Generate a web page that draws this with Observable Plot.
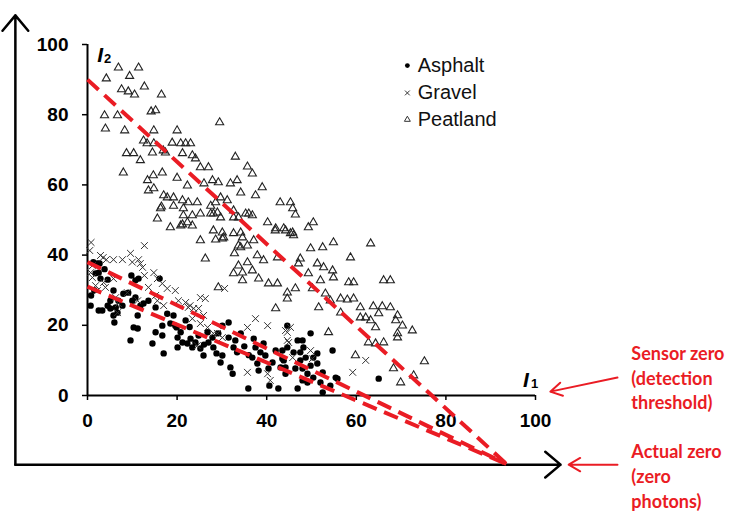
<!DOCTYPE html>
<html><head><meta charset="utf-8">
<script src="https://cdn.jsdelivr.net/npm/d3@7"></script>
<script src="https://cdn.jsdelivr.net/npm/@observablehq/plot@0.6"></script>
<style>html,body{margin:0;padding:0;background:#fff;} #chart{width:735px;height:511px;overflow:hidden}</style>
</head><body><div id="chart"></div>
<script>
// ---- data (I1, I2) ----
const asphalt = [[0.8,28.5],[0.7,25.6],[1.8,34.8],[2.5,35],[2.2,37.6],[1.3,38],[2.9,33.3],[2.7,37.6],[3.3,24.2],[4.5,25.6],[5.1,27],[5.8,29.9],[6.3,25.1],[5.8,22.8],[6.7,23.6],[6.9,27],[6,20.8],[7.8,25.6],[8,29],[9.8,34.2],[10.7,27.9],[10,27],[10.3,19.4],[11.2,19.1],[9.6,15.7],[10.7,32.8],[11.4,33.3],[11.8,25.6],[12.5,26.2],[13.6,27],[14.5,14.8],[15.2,18],[16.1,33.3],[16.7,19.9],[17,12],[17.8,23.3],[19.2,22.8],[19.9,19.4],[20.1,16.5],[20.1,13.7],[20.8,18],[21.2,15.1],[21.9,21.4],[22.3,14.8],[23,16.2],[23.4,13.7],[24.1,15.1],[24.8,17.1],[25.2,13.4],[25.9,11.4],[26.8,18],[27,15.1],[27.9,16.5],[28.1,13.7],[29.2,17.7],[29.7,9.4],[30.1,11.4],[30.1,19.9],[31.5,16.5],[31.5,20.8],[31.9,8],[32.4,6.2],[32.6,13.7],[33,15.7],[33.4,12.3],[34.2,17.7],[35.9,2],[36.8,10.8],[37.1,16.2],[37.5,13.7],[37.9,9.1],[38.2,7.1],[38.6,12.3],[39.3,14.8],[39.7,11.4],[40.4,7.7],[40.6,2.8],[41.3,9.4],[42,12.8],[42.6,2],[43.1,8],[43.5,10.5],[44.2,6.2],[44.6,19.9],[46,12.3],[46.4,7.7],[46.9,2],[47.5,10],[43.5,12.8],[43.8,10],[44.2,8],[44.6,13.7],[46.9,15.7],[48,15.7],[48.2,13.7],[47.5,12.3],[49.8,17.7],[48.7,10.8],[48,7.7],[49.1,6.2],[49.8,8.5],[50.4,10.8],[51.3,9.1],[51.3,12],[48,4.3],[49.1,3.7],[52.5,0.9],[54.2,2.8],[54.7,12.8],[55.4,5.1],[50.4,5.1],[52,3.7],[65,4.8],[52.5,6.6],[55.8,4.8],[2.5,24.2],[5.1,24.8],[9.1,29.3],[11.2,22.8],[15.2,25.1],[16.7,17.1],[19.6,19.9],[1.5,30],[3.8,36],[4.5,33],[18.5,20.5],[22.8,19.5],[26,14.5],[28.8,12],[35,14],[36,11.5]];
const gravel = [[0.8,43.6],[0.5,41.3],[2.9,39.9],[4.2,38.7],[5.8,38.7],[7.8,38.7],[9.6,40.5],[10,38],[11.4,38.7],[11.8,37.6],[12.7,42.7],[12.7,34.2],[13.6,30.8],[14.8,35],[15.6,33.3],[16.7,31.9],[17.8,30.5],[19.6,29.9],[15.2,28.5],[15.6,27],[20.3,27],[21.9,26.5],[22.5,25.1],[23.7,24.8],[25.2,27.9],[26.3,27.6],[24.8,24.8],[25.9,22.8],[1.8,31.3],[2.2,29.9],[3.6,32.2],[5.8,33.3],[6.3,27.9],[6.9,26.2],[11.2,27],[8.9,29.3],[0.7,35],[1.1,37],[23.4,21.9],[25.2,20.5],[26.8,19.4],[29,17.7],[30.1,16.5],[35.7,19.4],[37.5,21.9],[40.2,19.9],[35.7,6.6],[44.6,18],[45.3,19.4],[44.9,15.1],[45.8,10.8],[40.2,6.2],[40.8,4.3],[24.5,14.2],[28.1,17.7],[30.6,30.5],[44.2,18.5],[44.6,15.7],[49.8,12.8],[50.2,10.5],[62.1,10],[59.2,6.6],[12.3,36.5],[17,25.6],[4,30.8],[6.7,23.6],[1.1,33.6],[22.9,25.6],[3.5,39.3]];
const peatland = [[6.9,93.4],[11.4,93.4],[4.2,90.3],[9.4,91],[12.7,88],[7.6,87.2],[9.1,86.6],[10.5,85.7],[16.5,85.7],[3.8,79.8],[6.7,79.8],[14.2,80.9],[15.2,81.2],[4,76],[8.3,75.5],[14.8,75.5],[20,75.5],[29.5,77.8],[12.5,72.6],[13.3,71.8],[14.8,71.8],[16.9,69.8],[18.9,72],[20.8,71.8],[21.9,71.8],[23,71.8],[8.7,69],[10.3,69],[11.8,67],[14.5,69.2],[17.4,69.2],[21.2,69],[23.4,68.4],[24.1,67.5],[33,68],[8,63.5],[13.4,61.3],[14.7,62.7],[16.7,63.5],[13.6,58.4],[14.8,59],[20,62],[25.2,65],[27,65],[22.3,59.8],[26,60.4],[27.9,61.3],[29.2,60.7],[35.7,65.2],[36.8,63.2],[31.9,60.4],[33.4,61.3],[34.2,57.8],[37.5,57],[39,59.3],[17,57],[17.8,56.4],[19.2,56.4],[21.2,55.6],[22.5,55],[24.5,55],[16.3,53.3],[19.2,54],[21.4,53.3],[27.5,54],[28.6,55],[29.7,56.4],[31.2,55.6],[32.6,52.7],[43,55],[45.3,55],[45.8,53.3],[15.6,50.4],[18.5,47.9],[20.8,48.4],[22.3,49.3],[23.4,48.4],[25.2,51.8],[28.1,51.8],[33.7,50.7],[36,51.8],[40.2,49.3],[28.1,47],[30.4,45],[32.6,46.2],[34.6,45],[37.1,44.2],[41.9,47],[44.2,47],[46,45.6],[25.2,44.2],[33.7,42.7],[35.7,42.7],[16.5,53.8],[21.4,51.3],[23.4,51.3],[21.2,48.7],[27.5,51.8],[29,52.1],[29.7,50.7],[32.6,50.7],[35.3,51.8],[36.8,51.3],[30.1,46.4],[34.2,46.4],[42,47.6],[43.8,47.6],[45.3,46.2],[28.6,44.4],[30.1,44.7],[34.2,42.2],[32.8,40.5],[37.9,39.9],[39.3,38.5],[42.4,39.3],[26.3,39],[32.6,34.8],[33.7,37],[35.7,37.9],[34.6,35],[36.8,35.6],[34.6,32.8],[38.2,33.3],[40.4,31.9],[42.4,31.9],[44.6,29.3],[44.6,27.6],[46.4,30.5],[29.2,30.8],[42,24.8],[45.8,46.4],[49.3,47.9],[50.4,49.3],[49.8,41.9],[52.5,42.2],[54.9,43.6],[63.2,43.3],[58.7,39.3],[47.5,39],[47.1,37.6],[51.3,37.6],[52.7,36.5],[54.7,35.6],[49.3,34.8],[52,32.8],[54.9,33.6],[50.2,30.5],[53.1,29],[58.3,32.2],[59.4,32.2],[66.1,32.8],[67.6,32.8],[54.2,27],[56.5,27.6],[58,27.3],[59.4,27.6],[51.6,25.1],[56.5,23.6],[60.9,25.1],[63.8,25.4],[65.8,25.4],[67.6,25.1],[60.9,22.2],[62.1,22.2],[63.2,21.4],[65,23.4],[69.2,22.8],[68.8,21.4],[70.3,19.9],[64.3,19.4],[72.5,18.5],[69.2,17.7],[69.2,16.5],[62.7,15.1],[64.3,14.8],[66.1,15.1],[53.8,18],[59.8,11.4],[68.3,7.7],[69.9,3.7],[72.8,5.7],[75.2,9.7],[46.4,51.5]];

const ticks = [0, 20, 40, 60, 80, 100];
const seriesNames = ["Asphalt", "Gravel", "Peatland"];
const legendY = [94, 86.2, 78.6];
const legendSymbolX = 71.4, legendTextX = 73.7;

// red dashed lines: I2 value at I1 = 0, all converge at the actual zero point
const trendStartY = [31, 38, 90];
const convergeX = 93.5, convergeY = -19.5;

// outer (actual zero) axes
const outerOrigin = [-16.1, -19.7];
const outerTipX = 105.6, outerTipY = 108.3;

// axis titles
const axisTitles = [
  {main: "I", sub: "2", x: 2.2, y: 95.1, subX: 3.7, subY: 94.8},
  {main: "I", sub: "1", x: 97.2, y: 2.3, subX: 99.0, subY: 2.0}
];

// annotations
const annoLines = ["Sensor zero", "(detection", "threshold)", "Actual zero", "(zero", "photons)"];
const annoY = [11.7, 4.6, -2.3, -16.2, -23.4, -30.5];
const annoX = 121.4;
const annoArrows = [
  {x1: 118.3, y1: 5.1, x2: 103.3, y2: 1.1},
  {x1: 118.3, y1: -19.7, x2: 107.4, y2: -19.7}
];

const RED = "#ea1c24";
const SANS = "'Liberation Sans', Arial, sans-serif";
const trends = trendStartY.map((y0, i) => ({x1: 0, y1: y0, x2: convergeX, y2: convergeY}));
const legend = seriesNames.map((name, i) => ({name, y: legendY[i]}));
const annos = annoLines.map((t, i) => ({t, y: annoY[i]}));
const outer = [
  {x1: outerOrigin[0], y1: outerOrigin[1], x2: outerOrigin[0], y2: outerTipY},
  {x1: outerOrigin[0], y1: outerOrigin[1], x2: outerTipX, y2: outerOrigin[1]}
];

const chart = Plot.plot({
  width: 735, height: 511,
  marginLeft: 87, marginRight: 200, marginTop: 44, marginBottom: 116,
  style: {fontFamily: SANS, background: "#fff", overflow: "visible"},
  x: {domain: [0, 100], label: null},
  y: {domain: [0, 100], label: null},
  marks: [
    Plot.axisX({ticks, tickSize: 5, tickPadding: 13, fontSize: 19, fontWeight: "bold", fontFamily: SANS, strokeWidth: 1.5, label: null}),
    Plot.axisY({ticks, tickSize: 5, tickPadding: 14, fontSize: 19, fontWeight: "bold", fontFamily: SANS, strokeWidth: 1.5, label: null}),
    Plot.ruleY([0], {x1: 0, x2: 100, strokeWidth: 2}),
    Plot.ruleX([0], {y1: 0, y2: 100, strokeWidth: 2}),
    Plot.arrow(outer, {x1: "x1", y1: "y1", x2: "x2", y2: "y2", stroke: "black", strokeWidth: 2.5, headLength: 12, headAngle: 80}),
    Plot.dot(asphalt, {x: d => d[0], y: d => d[1], r: 3.2, fill: "black", stroke: "none"}),
    Plot.dot(gravel, {x: d => d[0], y: d => d[1], r: 3.2, symbol: "times", stroke: "#333", strokeWidth: 1}),
    Plot.dot(peatland, {x: d => d[0], y: d => d[1], r: 3, symbol: "triangle", fill: "none", stroke: "#222", strokeWidth: 1.1}),
    Plot.link(trends, {x1: "x1", y1: "y1", x2: "x2", y2: "y2", stroke: RED, strokeWidth: 4, strokeDasharray: "15,8"}),
    // legend
    Plot.dot(legend.filter(d => d.name === "Asphalt"), {x: () => legendSymbolX, y: "y", r: 2.4, fill: "black"}),
    Plot.dot(legend.filter(d => d.name === "Gravel"), {x: () => legendSymbolX, y: "y", r: 2.3, symbol: "times", stroke: "#333", strokeWidth: 1}),
    Plot.dot(legend.filter(d => d.name === "Peatland"), {x: () => legendSymbolX, y: "y", r: 2.2, symbol: "triangle", fill: "none", stroke: "#333", strokeWidth: 1}),
    Plot.text(legend, {x: () => legendTextX, y: "y", text: "name", textAnchor: "start", fontSize: 20, fontFamily: SANS, fill: "#111"}),
    // axis titles
    Plot.text(axisTitles, {x: "x", y: "y", text: "main", textAnchor: "start", lineAnchor: "bottom", fontSize: 21, fontWeight: "bold", fontStyle: "italic", fontFamily: SANS}),
    Plot.text(axisTitles, {x: "subX", y: "subY", text: "sub", textAnchor: "start", lineAnchor: "bottom", fontSize: 13, fontWeight: "bold", fontFamily: SANS}),
    // annotations
    Plot.arrow(annoArrows, {x1: "x1", y1: "y1", x2: "x2", y2: "y2", stroke: RED, strokeWidth: 2, headLength: 10, headAngle: 60}),
    Plot.text(annos, {x: () => annoX, y: "y", text: "t", textAnchor: "start", fill: RED, fontWeight: "bold", fontSize: 18, fontFamily: "Lato, 'Open Sans', sans-serif"})
  ]
});
document.getElementById("chart").appendChild(chart);
</script>
</body></html>
